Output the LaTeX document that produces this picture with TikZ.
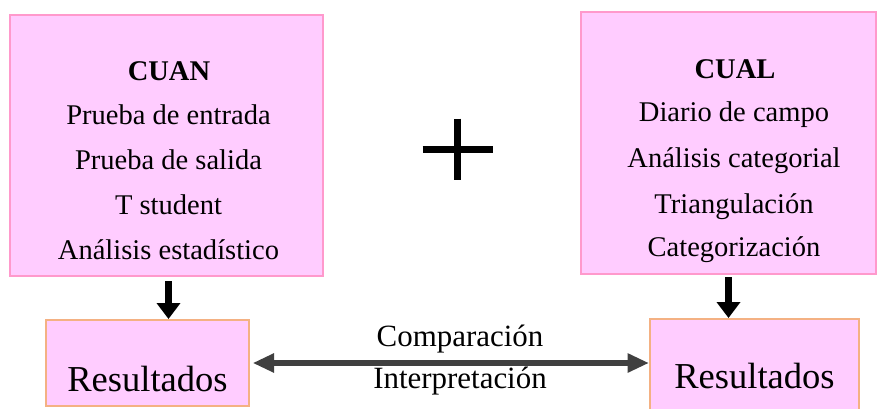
\documentclass[tikz,border=0pt]{standalone}
\usepackage{fontspec}
\setmainfont{Liberation Serif}
\usetikzlibrary{arrows.meta,calc}
\definecolor{boxfill}{HTML}{FFCCFF}
\definecolor{bigline}{HTML}{FF99CC}
\definecolor{resline}{HTML}{F4B183}
\definecolor{darkarrow}{HTML}{404040}
\begin{document}
\begin{tikzpicture}[x=0.75pt,y=-0.75pt,
  bigbox/.style={draw=bigline,fill=boxfill,line width=1.5pt,inner sep=0pt},
  resbox/.style={draw=resline,fill=boxfill,line width=1.5pt,inner sep=0pt,
     font=\fontsize{27.4pt}{30pt}\selectfont,text depth=0pt},
  bodytext/.style={font=\fontsize{21.4pt}{25pt}\selectfont,anchor=base,inner sep=0pt},
  labtext/.style={font=\fontsize{23.2pt}{27pt}\selectfont,anchor=base,inner sep=0pt},
  downarrow/.style={draw=black,line width=5.25pt,-{Triangle[width=17.25pt,length=12pt]}},
  bothway/.style={draw=darkarrow,line width=5pt,{Triangle[width=13.5pt,length=16pt]}-{Triangle[width=13.5pt,length=16pt]}},
  plusbar/.style={draw=black,line width=5.5pt}]
\useasboundingbox (0,0) rectangle (877,408);
% big boxes
\node[bigbox,minimum width=313*0.75pt,minimum height=261*0.75pt] (cuan) at (166.5,145.5) {};
\node[bigbox,minimum width=295*0.75pt,minimum height=262*0.75pt] (cual) at (728.5,143) {};
% texts in left box
\node[bodytext] (cuan1) at (169,80) {\textbf{CUAN}};
\node[bodytext] (cuan2) at (168.5,124) {Prueba de entrada};
\node[bodytext] (cuan3) at (168.5,169) {Prueba de salida};
\node[bodytext] (cuan4) at (168.5,214) {T student};
\node[bodytext] (cuan5) at (168.5,259) {Análisis estadístico};
% texts in right box
\node[bodytext] (cual1) at (735,78) {\textbf{CUAL}};
\node[bodytext] (cual2) at (734,121) {Diario de campo};
\node[bodytext] (cual3) at (734,167) {Análisis categorial};
\node[bodytext] (cual4) at (734,213) {Triangulación};
\node[bodytext] (cual5) at (734,256) {Categorización};
% plus sign
\coordinate (plusc) at (457.5,149.5);
\draw[plusbar] ($(plusc)+(-35,0)$) -- ($(plusc)+(35,0)$);
\draw[plusbar] ($(plusc)+(0,-31)$) -- ($(plusc)+(0,30)$);
% result boxes
\node[resbox,text height=42pt,minimum width=203*0.75pt,minimum height=86*0.75pt] (res1) at (147.5,363) {Resultados};
\node[resbox,text height=32.5pt,minimum width=209*0.75pt,minimum height=96*0.75pt] (res2) at (754.5,367) {Resultados};
% vertical arrows
\draw[downarrow,shorten <=3pt] ([xshift=1.5pt]cuan.south) -- ([xshift=1.5pt]cuan.south |- res1.north);
\draw[downarrow,shorten <=1.5pt] (cual.south) -- (cual.south |- res2.north);
% double arrow
\draw[bothway,shorten <=2pt,shorten >=0pt] (res1.east) -- (res2.west |- res1.east);
\node[labtext] (comp) at (460,346) {Comparación};
\node[labtext] (interp) at (460,388) {Interpretación};
\end{tikzpicture}
\end{document}
